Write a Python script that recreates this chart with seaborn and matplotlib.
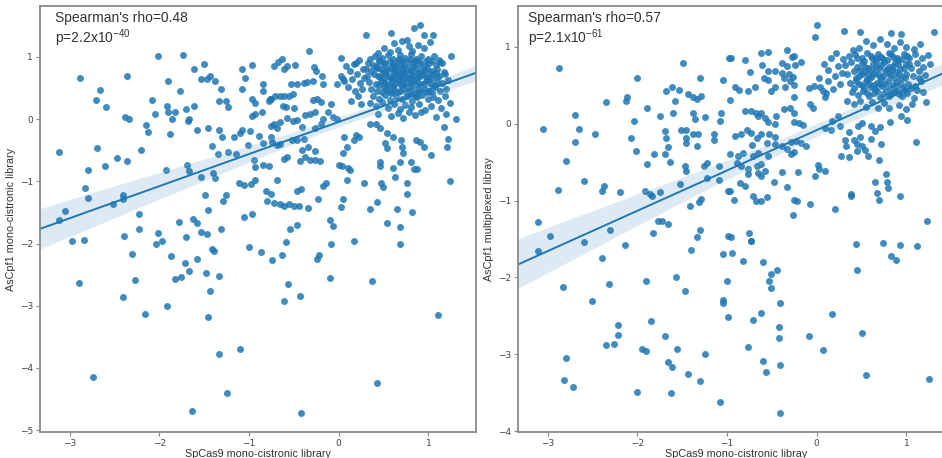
import matplotlib
matplotlib.use("Agg")
import matplotlib.pyplot as plt
import seaborn as sns
import pandas as pd

# ---------------- data ----------------
left_scatter = [
    (-2.01, 1.01), (-1.74, 1.04), (-2.88, 0.67), (-2.36, 0.69), (-2.66, 0.47), (-2.71, 0.31),
    (-2.59, 0.19), (-2.38, 0.04), (-2.34, 0.01), (-2.08, 0.31), (-2.05, 0.08), (-2.15, -0.10),
    (-2.13, -0.21), (-1.90, 0.62), (-1.91, 0.22), (-1.90, 0.12), (-1.82, 0.11), (-1.86, 0.00),
    (-1.88, -0.24), (-1.77, 0.46), (-1.70, 0.16), (-1.67, 0.01), (-1.68, -0.03), (-1.61, 0.21),
    (-1.61, 0.81), (-1.50, 0.88), (-1.54, 0.64), (-1.47, 0.65), (-1.43, 0.69), (-1.38, 0.62),
    (-1.31, 0.48), (-1.34, 0.29), (-1.26, 0.29), (-1.23, 0.19), (-1.58, -0.17), (-1.46, -0.14),
    (-1.34, -0.18), (-1.30, -0.29), (-1.17, -0.29), (-1.10, -0.22), (-1.08, -0.18), (-1.08, 0.81),
    (-0.97, 0.87), (-1.05, 0.67), (-1.08, 0.49), (-0.97, 0.33), (-0.93, 0.26), (-0.97, 0.05),
    (-0.93, 0.09), (-0.99, -0.19), (-1.01, -0.42), (-1.41, -0.43), (-1.35, -0.56), (-1.23, -0.53),
    (-1.14, -0.56), (-3.12, -0.53), (-2.70, -0.46), (-2.79, -0.81), (-2.60, -0.76), (-2.47, -0.62),
    (-2.36, -0.67), (-2.20, -0.49), (-1.92, -0.82), (-1.69, -0.74), (-1.67, -0.84), (-1.54, -0.93),
    (-1.40, -0.87), (-1.38, -0.94), (-1.11, -1.02), (-1.06, -1.06), (-0.98, -1.05), (-0.93, -0.98),
    (-0.93, -0.77), (-2.83, -1.11), (-2.80, -1.26), (-3.05, -1.47), (-3.12, -1.62), (-2.52, -1.37),
    (-2.41, -1.28), (-2.40, -1.22), (-2.23, -1.53), (-2.23, -1.76), (-2.39, -1.88), (-2.97, -1.96),
    (-2.84, -1.95), (-2.04, -2.01), (-1.97, -1.96), (-2.02, -1.83), (-1.78, -1.65), (-1.70, -1.89),
    (-1.63, -1.60), (-1.58, -1.67), (-1.53, -1.81), (-1.47, -1.85), (-1.31, -1.77), (-1.49, -1.22),
    (-1.29, -1.32), (-1.26, -1.22), (-1.46, -1.46), (-1.06, -1.58), (-0.97, -1.53), (-1.41, -2.08),
    (-1.00, -2.05),
    (0.30, 1.36), (0.58, 1.39), (0.84, 1.46), (0.91, 1.51), (0.95, 1.36), (1.05, 1.36), (0.76, 1.28),
    (-0.33, 1.09), (-0.68, 0.92), (-0.63, 0.96), (-0.58, 0.86), (-0.49, 0.87), (-0.72, 0.86),
    (-0.61, 0.81), (-0.28, 0.84), (-0.25, 0.77), (0.02, 0.99), (0.17, 0.88), (0.23, 0.95),
    (1.25, 1.02), (1.13, 0.92), (-0.84, 0.56), (-0.84, 0.46), (-0.76, 0.32), (-0.78, 0.30),
    (-0.77, 0.33), (-0.71, 0.37), (-0.66, 0.38), (-0.61, 0.37), (-0.56, 0.38), (-0.51, 0.40),
    (-0.53, 0.57), (-0.46, 0.57), (-0.39, 0.58), (-0.35, 0.59), (-0.29, 0.61), (-0.19, 0.69),
    (-0.17, 0.57), (-0.02, 0.57), (0.03, 0.70), (0.05, 0.65), (-0.62, 0.21), (-0.59, 0.19),
    (-0.50, 0.18), (-0.86, 0.11), (-0.76, -0.11), (-0.72, -0.07), (-0.69, -0.14), (-0.65, -0.05),
    (-0.58, 0.02), (-0.51, -0.03), (-0.47, -0.02), (-0.38, 0.06), (-0.32, 0.09), (-0.26, 0.12),
    (-0.29, 0.31), (-0.24, 0.32), (-0.20, 0.28), (-0.09, 0.25), (-0.12, 0.11), (-0.06, 0.03),
    (-0.02, 0.01), (-0.17, 0.00), (-0.20, -0.07), (-0.41, -0.12), (-0.26, -0.14), (-0.52, -0.34),
    (-0.46, -0.33), (-0.39, -0.32), (-0.75, -0.28), (-0.74, -0.36), (-0.69, -0.42), (-0.65, -0.40),
    (-0.84, -0.39), (-0.89, -0.27), (-0.95, -0.66), (-0.84, -0.73), (-0.78, -0.76),
    (-0.61, -0.64), (-0.58, -0.61), (-0.43, -0.68), (-0.38, -0.61), (-0.32, -0.65), (-0.26, -0.65),
    (-0.21, -0.68), (-0.41, -0.49), (-0.34, -0.44), (-0.26, -0.51), (0.00, -0.73), (0.04, -0.76),
    (0.10, -0.78), (0.13, -0.82), (0.06, -0.28), (0.09, -0.44), (0.05, -0.54), (0.19, -0.25),
    (0.23, -0.29), (0.17, -0.34), (-0.69, -0.98), (-0.81, -1.15), (-0.76, -1.21), (-0.80, -1.32),
    (-0.72, -1.35), (-0.66, -1.37), (-0.61, -1.39), (-0.56, -1.37), (-0.50, -1.39), (-0.44, -1.40),
    (-0.47, -1.15), (-0.42, -1.12), (-0.34, -1.43), (-0.23, -1.28), (-0.17, -1.07), (-0.14, -1.02),
    (0.05, -1.29), (0.03, -1.41), (0.09, -0.98), (0.28, -1.03), (-0.10, -1.62), (-0.06, -1.72),
    (-0.54, -1.76), (-0.46, -1.70), (-0.59, -1.98), (-0.09, -2.00), (0.17, -1.96), (0.35, -1.44),
    (0.43, -1.33), (0.46, -0.69), (0.46, -0.76), (0.47, -1.02), (0.49, -1.09), (0.61, -0.79),
    (0.63, -0.93), (0.68, -0.69), (0.76, -1.02), (0.76, -1.20), (0.80, -0.69), (0.84, -0.80),
    (0.87, -0.80), (0.54, -1.67), (0.68, -1.74), (0.65, -1.44), (0.68, -2.00), (0.82, -1.50),
    (1.24, -1.00), (1.03, -0.58), (1.21, -0.44), (1.22, -0.32), (1.31, 0.01), (1.17, -0.12),
    (0.54, -0.23), (0.61, -0.28), (0.69, -0.34), (0.52, -0.39), (0.54, -0.47), (0.86, -0.34),
    (0.91, -0.36), (0.95, -0.44), (0.70, -0.44), (0.72, -0.55), (0.35, -0.07), (0.41, -0.08),
    (0.46, -0.14),
    (-2.30, -2.16), (-1.87, -2.20), (-1.71, -2.31), (-1.58, -2.25), (-1.39, -2.12), (-1.67, -2.44),
    (-1.83, -2.57), (-1.76, -2.54), (-1.48, -2.48), (-1.34, -2.52), (-1.43, -2.77), (-0.87, -2.14),
    (-0.74, -2.27), (-0.63, -2.18), (-0.57, -2.65), (-0.61, -2.93), (-0.43, -2.85), (-0.24, -2.25),
    (-0.22, -2.18), (-0.10, -2.55), (0.37, -2.60), (1.11, -3.15), (-2.89, -2.63), (-2.40, -2.86),
    (-2.27, -2.59), (-2.16, -3.13), (-1.91, -3.01), (-1.46, -3.18), (-1.33, -3.78), (-1.10, -3.69),
    (-2.74, -4.14), (-1.25, -4.40), (-1.64, -4.69), (-0.42, -4.72), (0.43, -4.25),
]
left_cluster = [
    (0.62, 1.22), (0.70, 1.25), (0.78, 1.18), (0.66, 1.12), (0.88, 1.20), (0.95, 1.14), (0.50, 1.15),
    (1.02, 1.24), (0.57, 1.08), (0.82, 1.10),
    (0.40, 1.02), (0.48, 0.98), (0.55, 1.04), (0.61, 0.97), (0.68, 1.03), (0.74, 0.99), (0.80, 1.05),
    (0.86, 0.96), (0.92, 1.02), (0.99, 0.97), (1.06, 1.01), (1.12, 0.95), (0.35, 0.96), (0.44, 1.06),
    (0.33, 0.90), (0.38, 0.87), (0.45, 0.92), (0.51, 0.88), (0.57, 0.93), (0.63, 0.86), (0.69, 0.91),
    (0.73, 0.85), (0.78, 0.92), (0.84, 0.88), (0.90, 0.93), (0.95, 0.86), (1.01, 0.90), (1.08, 0.87),
    (1.15, 0.91), (0.41, 0.84), (0.66, 0.94),
    (0.30, 0.80), (0.36, 0.78), (0.43, 0.82), (0.49, 0.76), (0.54, 0.81), (0.60, 0.77), (0.65, 0.83),
    (0.71, 0.78), (0.76, 0.82), (0.81, 0.75), (0.87, 0.80), (0.93, 0.77), (0.98, 0.83), (1.04, 0.78),
    (1.10, 0.81), (1.17, 0.76), (0.58, 0.84), (0.83, 0.84), (0.68, 0.75),
    (0.32, 0.70), (0.39, 0.72), (0.46, 0.68), (0.52, 0.73), (0.57, 0.66), (0.62, 0.71), (0.67, 0.67),
    (0.73, 0.72), (0.78, 0.66), (0.83, 0.71), (0.89, 0.68), (0.94, 0.73), (1.00, 0.67), (1.05, 0.71),
    (1.12, 0.69), (1.19, 0.72), (0.70, 0.64), (0.86, 0.64), (0.49, 0.64),
    (0.34, 0.60), (0.41, 0.57), (0.47, 0.61), (0.53, 0.56), (0.59, 0.62), (0.64, 0.58), (0.69, 0.55),
    (0.75, 0.60), (0.80, 0.56), (0.85, 0.61), (0.91, 0.57), (0.97, 0.62), (1.03, 0.56), (1.09, 0.60),
    (1.15, 0.58), (1.22, 0.63), (0.61, 0.53), (0.77, 0.52),
    (0.36, 0.49), (0.43, 0.46), (0.50, 0.51), (0.55, 0.45), (0.62, 0.48), (0.66, 0.43), (0.72, 0.50),
    (0.79, 0.45), (0.84, 0.49), (0.88, 0.44), (0.95, 0.50), (1.01, 0.46), (1.07, 0.51), (1.13, 0.45),
    (1.20, 0.48), (0.58, 0.42),
    (0.38, 0.37), (0.45, 0.33), (0.52, 0.39), (0.57, 0.31), (0.64, 0.36), (0.70, 0.32), (0.76, 0.38),
    (0.82, 0.30), (0.87, 0.35), (0.93, 0.39), (0.99, 0.32), (1.05, 0.36), (1.11, 0.31), (1.18, 0.37),
    (0.48, 0.27),
    (0.41, 0.22), (0.55, 0.18), (0.62, 0.25), (0.68, 0.16), (0.74, 0.23), (0.80, 0.19), (0.90, 0.24),
    (0.96, 0.15), (1.03, 0.21), (1.14, 0.18), (1.24, 0.26), (0.35, 0.26),
    (0.44, 0.08), (0.58, 0.05), (0.66, 0.10), (0.72, 0.02), (0.85, 0.07), (0.92, 0.11), (1.08, 0.04),
    (1.20, 0.09), (0.78, 0.12),
    (0.08, 0.85), (0.12, 0.78), (0.15, 0.64), (0.20, 0.72), (0.24, 0.58), (0.27, 0.80), (0.10, 0.52),
    (0.18, 0.46), (0.22, 0.38), (0.26, 0.48), (0.14, 0.30), (0.28, 0.66), (0.06, 0.62), (0.19, 0.90),
    (0.25, 0.25),
]
left_core = [
    (0.45, 0.95), (0.52, 0.90), (0.60, 0.88), (0.67, 0.97), (0.72, 0.93), (0.79, 0.97), (0.85, 0.93),
    (0.91, 0.89), (0.97, 0.94), (1.04, 0.93),
    (0.47, 0.80), (0.53, 0.78), (0.62, 0.80), (0.70, 0.82), (0.74, 0.76), (0.80, 0.79), (0.88, 0.74),
    (0.96, 0.79), (1.02, 0.75), (1.08, 0.74),
    (0.44, 0.70), (0.55, 0.70), (0.60, 0.66), (0.65, 0.72), (0.75, 0.66), (0.81, 0.68), (0.91, 0.71),
    (0.97, 0.68), (1.03, 0.64), (1.10, 0.66),
    (0.45, 0.55), (0.51, 0.59), (0.57, 0.55), (0.67, 0.61), (0.72, 0.56), (0.82, 0.59), (0.88, 0.55),
    (0.94, 0.56), (1.00, 0.59), (1.06, 0.55),
    (0.48, 0.44), (0.53, 0.48), (0.60, 0.44), (0.68, 0.46), (0.75, 0.44), (0.81, 0.41), (0.90, 0.47),
    (0.98, 0.43), (1.04, 0.42), (0.86, 0.38),
]

right_scatter = [
    (-2.87, 0.72), (-1.49, 0.79), (-2.00, 0.60), (-1.30, 0.60), (-1.04, 0.57), (-0.98, 0.85),
    (-2.35, 0.28), (-2.13, 0.30), (-2.11, 0.35), (-1.68, 0.42), (-1.61, 0.48), (-1.54, 0.44),
    (-1.58, 0.29), (-1.43, 0.39), (-1.38, 0.35), (-1.34, 0.32), (-1.29, 0.36), (-1.89, 0.20),
    (-2.69, 0.11), (-3.05, -0.07), (-2.65, -0.07), (-2.47, -0.13), (-2.70, -0.24), (-2.04, 0.03),
    (-2.07, -0.19), (-2.02, -0.36), (-1.75, 0.10), (-1.60, 0.14), (-1.69, -0.09), (-1.68, -0.19),
    (-1.66, -0.31), (-1.69, -0.39), (-1.81, -0.39), (-1.64, -0.50), (-1.89, -0.52), (-1.51, -0.08),
    (-1.46, -0.08), (-1.46, -0.19), (-1.46, -0.25), (-1.38, -0.14), (-1.32, -0.13), (-1.34, -0.29),
    (-1.38, 0.14), (-1.36, 0.06), (-1.25, 0.08), (-1.15, -0.14), (-1.15, -0.21), (-1.07, 0.14),
    (-1.08, 0.03), (-1.47, -0.55), (-1.46, -0.62), (-1.26, -0.55), (-1.22, -0.51), (-1.22, -0.71),
    (-1.09, -0.55), (-1.09, -0.73), (-2.79, -0.48), (-2.59, -0.74), (-2.88, -0.86), (-2.37, -0.81),
    (-2.39, -0.87), (-2.19, -0.89), (-1.91, -0.87), (-1.86, -0.92), (-1.84, -0.94), (-1.75, -0.89),
    (-1.52, -0.78), (-1.41, -1.07), (-1.31, -1.02), (-1.29, -0.98), (-0.99, -0.88), (-3.11, -1.28),
    (-2.97, -1.46), (-2.30, -1.38), (-2.59, -1.54), (-2.14, -1.58), (-1.77, -1.26), (-1.73, -1.26),
    (-1.66, -1.30), (-1.82, -1.42), (-1.30, -1.38), (-1.33, -1.48), (-0.99, -1.46),
    (-3.11, -1.66), (-2.39, -1.75), (-2.83, -2.13), (-2.32, -2.08), (-2.50, -2.31), (-2.79, -3.05),
    (-2.82, -3.33), (-2.72, -3.43), (-2.22, -2.62), (-2.21, -2.75), (-2.35, -2.88), (-2.26, -2.87),
    (-1.95, -2.93), (-1.90, -2.96), (-2.00, -3.49), (-1.90, -2.04), (-1.85, -2.56), (-1.69, -2.76),
    (-1.66, -3.10), (-1.61, -3.16), (-1.63, -3.50), (-1.57, -2.00), (-1.56, -2.93), (-1.47, -2.17),
    (-1.44, -3.25), (-1.40, -1.64), (-1.30, -3.35), (-1.24, -3.00), (-1.08, -3.62), (-1.04, -1.70),
    (-0.94, -1.68), (-1.00, -2.05), (-1.05, -2.29), (-1.05, -2.33), (-0.99, -2.51), (-0.82, -1.79),
    (-0.77, -2.91), (-0.73, -1.53), (-0.71, -2.55), (-0.62, -2.46), (-0.60, -1.80), (-0.60, -3.09),
    (-0.57, -3.23), (-0.51, -1.95), (-0.53, -2.04), (-0.51, -2.14), (-0.44, -1.90), (-0.41, -2.33),
    (-0.42, -2.64), (-0.42, -2.79), (-0.41, -3.14), (-0.41, -3.76), (-0.09, -2.76), (0.07, -2.95),
    (0.17, -2.48), (0.44, -1.56), (0.45, -1.90), (0.50, -2.72), (0.55, -3.27), (0.74, -1.55),
    (0.83, -1.72), (0.88, -1.77), (0.93, -1.58), (1.12, -1.59), (1.25, -3.32),
    (0.00, 1.28), (-0.02, 1.13), (0.30, 1.21), (0.48, 1.19), (0.83, 1.18), (0.94, 1.17), (1.31, 1.19),
    (-0.96, 0.85), (-0.80, 0.83), (-0.62, 0.92), (-0.54, 0.93), (-0.74, 0.67), (-0.61, 0.76),
    (-0.54, 0.69), (-0.47, 0.69), (-0.33, 0.96), (-0.28, 0.87), (-0.25, 0.88), (-0.39, 0.79),
    (-0.33, 0.75), (-0.24, 0.76), (-0.17, 0.80), (-0.59, 0.59), (-0.54, 0.57), (-0.39, 0.66),
    (-0.31, 0.64), (-0.36, 0.59), (-0.30, 0.56), (-0.26, 0.61), (-0.91, 0.48), (-0.87, 0.44),
    (-0.77, 0.42), (-0.69, 0.48), (-0.97, 0.31), (-0.51, 0.43), (-0.47, 0.48), (-0.35, 0.48),
    (-0.25, 0.50), (-0.25, 0.35), (-0.09, 0.46), (-0.03, 0.49), (0.03, 0.59), (0.04, 0.48),
    (0.07, 0.42), (0.09, 0.35), (-0.07, 0.25), (-0.04, 0.20), (-0.80, 0.16), (-0.73, 0.17),
    (-0.68, 0.14), (-0.65, 0.10), (-0.62, 0.14), (-0.58, 0.07), (-0.54, 0.02), (-0.47, 0.00),
    (-0.45, 0.10), (-0.36, 0.19), (-0.30, 0.20), (-0.25, 0.14), (-0.25, 0.02), (-0.20, 0.01),
    (-0.15, -0.02), (-0.78, -0.08), (-0.73, -0.12), (-0.91, -0.16), (-0.84, -0.14), (-0.67, -0.19),
    (-0.62, -0.13), (-0.53, -0.14), (-0.47, -0.17), (-0.56, -0.25), (-0.47, -0.26), (-0.39, -0.29),
    (-0.29, -0.24), (-0.23, -0.22), (-0.17, -0.25), (-0.12, -0.29), (-0.33, -0.33), (-0.29, -0.39),
    (-0.25, -0.37), (-0.97, -0.39), (-0.88, -0.42), (-0.82, -0.38), (-0.71, -0.42), (-0.65, -0.38),
    (-0.54, -0.42), (-0.72, -0.28), (0.09, -0.06), (0.16, -0.08), (0.17, 0.03), (0.24, 0.10),
    (0.26, -0.03), (0.31, -0.21), (0.33, -0.29), (0.36, -0.11), (0.42, -0.21), (0.45, -0.26),
    (0.48, -0.17), (0.50, -0.29), (0.54, -0.34), (0.45, -0.35), (0.46, -0.03), (0.51, 0.01),
    (0.61, -0.03), (0.65, -0.09), (0.71, -0.05), (0.61, -0.20), (0.72, -0.26), (0.57, -0.42),
    (0.69, -0.47), (0.27, -0.42), (0.36, -0.43), (0.82, 0.02), (0.94, 0.10), (1.01, 0.05),
    (1.11, -0.24), (-0.89, -0.51), (-0.84, -0.55), (-0.77, -0.59), (-0.67, -0.55), (-0.62, -0.52),
    (-0.58, -0.62), (-0.77, -0.66), (-0.85, -0.77), (-0.80, -0.81), (-0.66, -0.64), (-0.62, -0.68),
    (-0.48, -0.76), (-0.39, -0.63), (-0.21, -0.63), (-0.02, -0.68), (0.01, -0.54), (0.03, -0.59),
    (0.09, -0.62), (-0.33, -0.83), (-0.97, -0.88), (-0.92, -0.99), (-0.71, -0.94), (-0.68, -1.00),
    (-0.62, -1.01), (-0.56, -0.95), (-0.25, -0.99), (-0.22, -1.01), (-0.07, -1.05), (-0.27, -1.19),
    (0.20, -1.11), (0.38, -0.94), (0.38, -0.91), (0.65, -0.76), (0.67, -0.90), (0.69, -0.99),
    (0.77, -0.66), (0.78, -0.76), (0.79, -0.84), (0.93, -0.94), (1.23, -1.27), (-0.96, -1.47),
    (-0.76, -1.42), (-0.73, -1.52),
]
right_cluster = [
    (0.55, 1.08), (0.63, 1.02), (0.70, 1.10), (0.78, 1.04), (0.86, 0.99), (0.93, 1.06), (1.00, 1.00),
    (1.08, 0.97), (0.47, 0.98), (1.15, 1.03), (0.40, 0.96),
    (0.36, 0.88), (0.43, 0.91), (0.50, 0.86), (0.56, 0.92), (0.62, 0.85), (0.68, 0.90), (0.74, 0.84),
    (0.80, 0.92), (0.85, 0.87), (0.91, 0.83), (0.97, 0.90), (1.03, 0.85), (1.10, 0.91), (1.17, 0.86),
    (1.24, 0.89), (0.29, 0.84),
    (0.31, 0.76), (0.38, 0.80), (0.45, 0.74), (0.51, 0.79), (0.57, 0.72), (0.63, 0.78), (0.69, 0.73),
    (0.75, 0.80), (0.81, 0.74), (0.87, 0.79), (0.93, 0.71), (0.99, 0.77), (1.05, 0.73), (1.12, 0.79),
    (1.19, 0.74), (1.26, 0.78), (0.66, 0.82), (0.84, 0.70),
    (0.34, 0.65), (0.41, 0.68), (0.47, 0.62), (0.53, 0.67), (0.59, 0.60), (0.64, 0.66), (0.70, 0.61),
    (0.76, 0.68), (0.82, 0.63), (0.88, 0.67), (0.94, 0.60), (1.00, 0.65), (1.07, 0.62), (1.14, 0.68),
    (1.21, 0.63), (0.72, 0.58), (0.56, 0.58),
    (0.37, 0.53), (0.44, 0.56), (0.50, 0.50), (0.55, 0.55), (0.61, 0.48), (0.67, 0.53), (0.73, 0.49),
    (0.79, 0.55), (0.85, 0.50), (0.90, 0.54), (0.96, 0.47), (1.02, 0.52), (1.09, 0.49), (1.16, 0.55),
    (0.65, 0.45),
    (0.39, 0.41), (0.46, 0.37), (0.52, 0.43), (0.58, 0.36), (0.64, 0.40), (0.71, 0.35), (0.77, 0.42),
    (0.83, 0.38), (0.89, 0.43), (0.95, 0.36), (1.01, 0.40), (1.08, 0.34), (1.18, 0.41), (0.48, 0.30),
    (0.42, 0.25), (0.55, 0.22), (0.62, 0.28), (0.68, 0.20), (0.75, 0.27), (0.80, 0.21), (0.92, 0.24),
    (0.99, 0.19), (1.06, 0.26), (1.22, 0.28), (0.34, 0.30),
    (0.08, 0.78), (0.12, 0.70), (0.16, 0.85), (0.20, 0.62), (0.24, 0.75), (0.13, 0.55), (0.18, 0.45),
    (0.26, 0.52), (0.22, 0.92), (0.10, 0.40), (0.28, 0.66),
]
right_core = [
    (0.45, 0.85), (0.53, 0.82), (0.60, 0.88), (0.66, 0.86), (0.72, 0.87), (0.78, 0.83), (0.83, 0.90),
    (0.89, 0.86), (0.95, 0.84), (1.01, 0.88),
    (0.48, 0.70), (0.54, 0.74), (0.60, 0.70), (0.66, 0.74), (0.72, 0.76), (0.78, 0.71), (0.85, 0.75),
    (0.91, 0.77), (0.97, 0.72), (1.03, 0.78),
    (0.44, 0.60), (0.50, 0.64), (0.57, 0.64), (0.62, 0.62), (0.68, 0.64), (0.74, 0.62), (0.80, 0.66),
    (0.86, 0.60), (0.92, 0.65), (0.98, 0.60),
    (0.47, 0.51), (0.53, 0.47), (0.58, 0.51), (0.64, 0.50), (0.70, 0.52), (0.76, 0.52), (0.82, 0.47),
    (0.88, 0.49), (0.94, 0.52), (1.05, 0.46),
    (0.42, 0.47), (0.56, 0.40), (0.67, 0.42), (0.74, 0.38), (0.80, 0.36), (0.86, 0.41), (0.92, 0.39),
    (0.98, 0.44), (1.12, 0.44), (1.14, 0.59),
]

left_points = left_scatter + left_cluster + left_core
right_points = right_scatter + right_cluster + right_core

left_df = pd.DataFrame(left_points, columns=["spcas9", "ascpf1_mono"])
right_df = pd.DataFrame(right_points, columns=["spcas9", "ascpf1_multi"])

left_stats = ["Spearman's rho=0.48", "p=2.2x10$^{-40}$"]
right_stats = ["Spearman's rho=0.57", "p=2.1x10$^{-61}$"]
x_labels = ["SpCas9 mono-cistronic library", "SpCas9 mono-cistronic libray"]
y_labels = ["AsCpf1 mono-cistronic library", "AsCpf1 multiplexed libray"]

# ---------------- styling ----------------
sns.set_style("ticks")
plt.rcParams["font.family"] = ["DejaVu Sans"]
plt.rcParams["mathtext.fontset"] = "custom"
plt.rcParams["mathtext.rm"] = "Liberation Sans"
plt.rcParams["mathtext.it"] = "Liberation Sans"
plt.rcParams["mathtext.bf"] = "Liberation Sans"

fig = plt.figure(figsize=(9.42, 4.58), dpi=100)
ax1 = fig.add_axes([40 / 942, 26 / 458, 436 / 942, 426 / 458])
ax2 = fig.add_axes([518 / 942, 26 / 458, 436 / 942, 426 / 458])

blue = "#1f77b4"
panels = [
    (ax1, left_df, "spcas9", "ascpf1_mono", (-3.33, 1.53), (-5.03, 1.82), left_stats, 0.034),
    (ax2, right_df, "spcas9", "ascpf1_multi", (-3.33, 1.53), (-4.01, 1.53), right_stats, 0.023),
]

for i, (ax, df, xc, yc, xl, yl, stats, tx) in enumerate(panels):
    ax.set_xlim(*xl)
    ax.set_ylim(*yl)
    sns.regplot(data=df, x=xc, y=yc, ax=ax, truncate=False, seed=0, color=blue,
                scatter_kws=dict(s=25, alpha=0.85, linewidths=0),
                line_kws=dict(lw=1.4))
    ax.set_xlim(*xl)
    ax.set_ylim(*yl)
    ax.set_xticks([-3, -2, -1, 0, 1])
    if i == 0:
        ax.set_yticks([-5, -4, -3, -2, -1, 0, 1])
    else:
        ax.set_yticks([-4, -3, -2, -1, 0, 1])
    ax.tick_params(labelsize=6.5, length=3, width=0.8, color="#888888", labelcolor="#444444", pad=2)
    for sp in ax.spines.values():
        sp.set_color("#8a8a8a")
        sp.set_linewidth(1.3)
    ax.set_xlabel(x_labels[i], fontsize=7.8, family="Liberation Sans", color="#333333", labelpad=1)
    ax.set_ylabel(y_labels[i], fontsize=7.8, family="Liberation Sans", color="#333333", labelpad=3)
    ax.text(tx, 0.988, stats[0], transform=ax.transAxes, va="top", ha="left",
            fontsize=10, family="Liberation Sans", color="#333333")
    ax.text(tx, 0.950, stats[1], transform=ax.transAxes, va="top", ha="left",
            fontsize=10, family="Liberation Sans", color="#333333")

fig.savefig("out.png", dpi=100)
